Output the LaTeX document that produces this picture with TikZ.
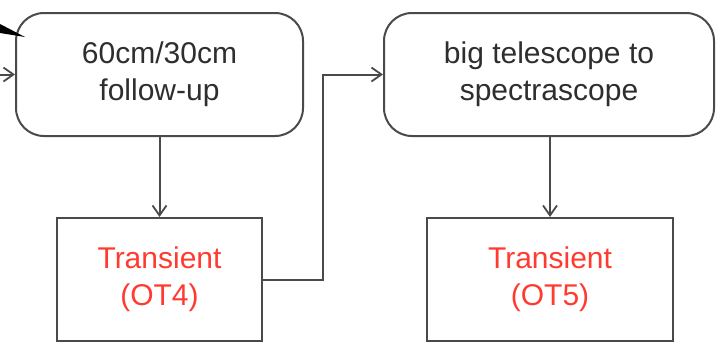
\documentclass[tikz,border=0pt]{standalone}
\usepackage{fontspec}
\setmainfont{Liberation Sans}
\usetikzlibrary{arrows.meta}
\definecolor{linegray}{HTML}{4A4A4A}
\definecolor{textgray}{HTML}{2E2E2E}
\definecolor{otred}{HTML}{FF3B30}
\tikzset{
  stage/.style={draw=linegray, line width=1pt, rounded corners=14pt,
    align=center, text=textgray, inner sep=0pt,
    font=\fontsize{15}{18.5}\selectfont, minimum height=61.5pt},
  result/.style={draw=linegray, line width=1pt, align=center, text=otred,
    inner sep=0pt, font=\fontsize{15}{18.5}\selectfont, minimum height=61.5pt},
  flow/.style={draw=linegray, line width=1pt,
    -{Straight Barb[length=5pt,width=7pt,line width=0.9pt]}},
}
\begin{document}
\begin{tikzpicture}[x=0.5pt, y=-0.5pt]
  \useasboundingbox (0,0) rectangle (726,349);

  % processing stages
  \node[stage, minimum width=143.5pt] (followup) at (159.5,74.5)
    {60cm/30cm\\follow-up};
  \node[stage, minimum width=165pt] (bigscope) at (549,74.5)
    {big telescope to\\spectrascope};

  % resulting transients
  \node[result, minimum width=102.5pt] (ot4) at (159.5,279.5)
    {Transient\\(OT4)};
  \node[result, minimum width=123pt] (ot5) at (550,279.5)
    {Transient\\(OT5)};

  % incoming feed on the left
  \coordinate (feed) at (0,74.5);
  \draw[flow] (feed) -- (followup.west);
  \fill[black] (0,24) -- (25,37) -- (0,33) -- cycle;

  % connectors
  \draw[flow] (followup.south) -- (ot4.north);
  \draw[flow] (bigscope.south -| ot5.north) -- (ot5.north);
  \coordinate (bend) at (323,0);
  \draw[flow] (ot4.east) -| (bend |- bigscope.west) -- (bigscope.west);
\end{tikzpicture}
\end{document}
